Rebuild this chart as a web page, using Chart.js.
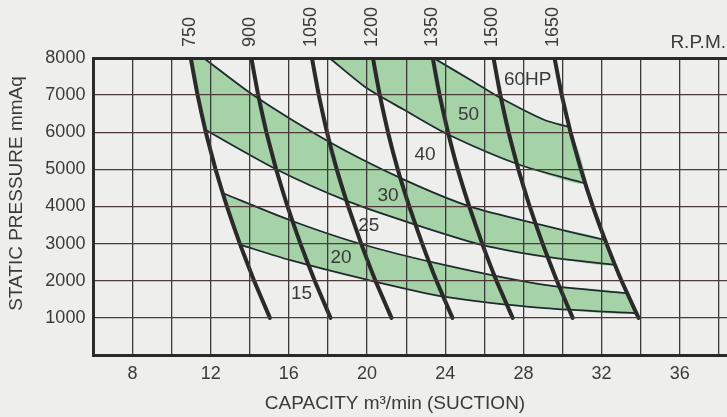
<!DOCTYPE html>
<html>
<head>
<meta charset="utf-8">
<script src="https://cdn.jsdelivr.net/npm/chart.js@4.4.0/dist/chart.umd.min.js"></script>
<style>
  html, body { margin: 0; padding: 0; background: #eeeeec; overflow: hidden; }
  #wrap { width: 766px; height: 417px; position: relative; }
</style>
</head>
<body>
<div id="wrap"><canvas id="grafico"></canvas></div>
<script>
// ==========================
// Data: [capacity m3/min, static pressure mmAq]
// ==========================
const rpmLabels = ["750", "900", "1050", "1200", "1350", "1500", "1650"];
const rpmPressao = [8000, 7000, 6000, 5000, 4000, 3000, 2000, 1000];
const rpm750  = [10.98, 11.33, 11.75, 12.25, 12.83, 13.49, 14.22, 15.03];
const rpm900  = [14.08, 14.43, 14.85, 15.35, 15.93, 16.59, 17.32, 18.13];
const rpm1050 = [17.18, 17.53, 17.95, 18.45, 19.04, 19.7, 20.43, 21.25];
const rpm1200 = [20.3, 20.65, 21.07, 21.57, 22.16, 22.82, 23.55, 24.37];
const rpm1350 = [23.36, 23.71, 24.14, 24.64, 25.23, 25.89, 26.62, 27.45];
const rpm1500 = [26.47, 26.82, 27.24, 27.74, 28.32, 28.98, 29.71, 30.52];
const rpm1650 = [29.59, 29.96, 30.41, 30.94, 31.55, 32.25, 33.02, 33.89];
const rpmLinhas = [rpm750, rpm900, rpm1050, rpm1200, rpm1350, rpm1500, rpm1650];

// power curves, upper and lower edge of each green band
const hpA = [[23.4, 8000], [25.32, 7400], [26.72, 6956], [29.08, 6329], [30.3, 6148]];
const hpB = [[18.08, 8000], [19.98, 7190], [21.92, 6598], [24.2, 5925], [27.82, 5118], [31.15, 4625]];
const hpC = [[11.64, 8000], [14.17, 7002], [18.05, 5745], [21.75, 4759], [25.29, 3995], [28.92, 3502], [32.15, 3099]];
const hpD = [[11.74, 6060], [15.43, 4983], [19.06, 4130], [22.26, 3548], [25.88, 2964], [29.09, 2649], [32.65, 2425]];
const hpE = [[12.64, 4356], [16.03, 3637], [19.56, 3010], [23.94, 2425], [29.08, 1887], [33.28, 1664]];
const hpF = [[13.54, 2964], [16.03, 2560], [19.83, 2049], [23.94, 1572], [29.08, 1260], [33.75, 1125]];
const hpCurvas = [hpA, hpB, hpC, hpD, hpE, hpF];

// HP labels and where they sit (data units)
const hpLabels = ["60HP", "50", "40", "30", "25", "20", "15"];
const hpLabelAt = [[28.22, 7406], [25.19, 6474], [22.97, 5400], [21.07, 4296], [20.09, 3475], [18.67, 2627], [16.65, 1658]];

const yTicks = [1000, 2000, 3000, 4000, 5000, 6000, 7000, 8000];
const xTicks = [8, 12, 16, 20, 24, 28, 32, 36];

// ==========================
// Styles
// ==========================
const corTexto = "#3a3a3a";
const corVerde = "rgba(98,184,104,0.52)";
const fonte = "'Liberation Sans', Arial, Helvetica, sans-serif";

const pontos = (arr) => arr.map(([x, y]) => ({ x, y }));
const pontosRpm = (xs) => xs.map((x, i) => ({ x, y: rpmPressao[i] }));

// green bands: upper curve forward, lower curve back
const faixa1 = [...hpA, ...hpB.slice().reverse()];
const faixa2 = [[rpm750[0], rpmPressao[0]], ...hpC, ...hpD.slice().reverse()];
const faixa3 = [...hpE, ...hpF.slice().reverse()];

const datasets = [];

[faixa1, faixa2, faixa3].forEach((f) => {
  datasets.push({
    data: pontos(f),
    showLine: true,
    fill: "shape",
    backgroundColor: corVerde,
    borderWidth: 0,
    pointRadius: 0,
    tension: 0.2,
    order: 3,
  });
});

hpCurvas.forEach((c) => {
  datasets.push({
    data: pontos(c),
    showLine: true,
    borderColor: "#1f2a2e",
    borderWidth: 1.8,
    pointRadius: 0,
    tension: 0.25,
    order: 2,
  });
});

rpmLinhas.forEach((l) => {
  datasets.push({
    data: pontosRpm(l),
    showLine: true,
    borderColor: "#2a2a2a",
    borderWidth: 4,
    borderCapStyle: "round",
    pointRadius: 0,
    tension: 0.15,
    order: 1,
  });
});

// ==========================
// Texts drawn over the chart
// ==========================
const rotulos = {
  id: "rotulos",
  afterDraw(chart) {
    const { ctx, chartArea, scales: { x, y } } = chart;
    ctx.save();
    ctx.fillStyle = corTexto;

    // RPM values, rotated, above the top of each rpm line
    ctx.font = "18px " + fonte;
    rpmLinhas.forEach((linha, i) => {
      const px = x.getPixelForValue(linha[0]);
      ctx.save();
      ctx.translate(px - 1, chartArea.top - 11);
      ctx.rotate(-Math.PI / 2);
      ctx.textAlign = "left";
      ctx.textBaseline = "middle";
      ctx.fillText(rpmLabels[i], 0, 0);
      ctx.restore();
    });

    // HP labels
    ctx.font = "19px " + fonte;
    ctx.textAlign = "center";
    ctx.textBaseline = "middle";
    hpLabels.forEach((t, i) => {
      ctx.fillText(t, x.getPixelForValue(hpLabelAt[i][0]), y.getPixelForValue(hpLabelAt[i][1]));
    });

    // R.P.M.
    ctx.textAlign = "right";
    ctx.textBaseline = "alphabetic";
    ctx.fillText("R.P.M.", 726, 48);

    // axis titles
    ctx.textAlign = "center";
    ctx.textBaseline = "middle";
    ctx.fillText("CAPACITY m\u00B3/min (SUCTION)", 395, 404);
    ctx.save();
    ctx.translate(17, (chartArea.top + chartArea.bottom) / 2 - 13);
    ctx.rotate(-Math.PI / 2);
    ctx.fillText("STATIC PRESSURE mmAq", 0, 0);
    ctx.restore();

    ctx.restore();
  },
};

// ==========================
// Chart
// ==========================
new Chart(document.getElementById("grafico"), {
  type: "scatter",
  data: { datasets },
  options: {
    responsive: true,
    maintainAspectRatio: false,
    animation: false,
    devicePixelRatio: 1,
    layout: { padding: { top: 58, right: 0, left: 0, bottom: 0 } },
    plugins: { legend: { display: false }, tooltip: { enabled: false } },
    scales: {
      x: {
        type: "linear",
        min: 6,
        max: 40,
        afterFit: (s) => { s.height = 62; },
        ticks: {
          stepSize: 2,
          autoSkip: false,
          maxRotation: 0,
          padding: 8,
          color: corTexto,
          font: { family: fonte, size: 18 },
          callback: (v) => (xTicks.includes(v) ? String(v) : ""),
        },
        grid: { z: 1, color: "#3a3a3a", lineWidth: 1.3, drawTicks: false },
        border: { z: 2, color: "#2a2a2a", width: 3 },
      },
      y: {
        type: "linear",
        min: 0,
        max: 8000,
        afterFit: (s) => { s.width = 93.4; },
        ticks: {
          stepSize: 1000,
          padding: 8,
          color: corTexto,
          font: { family: fonte, size: 18 },
          callback: (v) => (yTicks.includes(v) ? String(v) : ""),
        },
        grid: {
          z: 1,
          drawTicks: false,
          color: (c) => (c.tick && c.tick.value === 8000 ? "#2a2a2a" : "#4e3b39"),
          lineWidth: (c) => (c.tick && c.tick.value === 8000 ? 3 : 1.3),
        },
        border: { z: 2, color: "#2a2a2a", width: 3 },
      },
    },
  },
  plugins: [rotulos],
});
</script>
</body>
</html>
